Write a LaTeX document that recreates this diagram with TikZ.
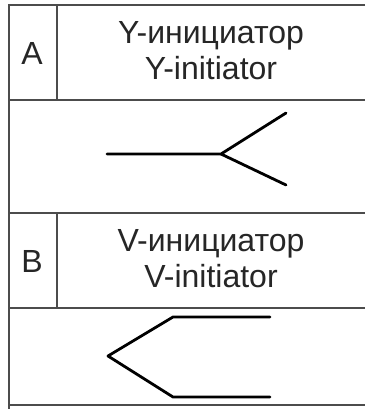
\documentclass[tikz,border=0pt]{standalone}
\usepackage{fontspec}
\setmainfont{Liberation Sans}
\begin{document}
\begin{tikzpicture}[x=1pt,y=-1pt,
  grid/.style={draw=black!70,line width=1.6pt},
  glyph/.style={draw=black,line width=2.8pt,line join=round,line cap=round},
  lbl/.style={font=\fontsize{32}{36}\selectfont,text=black!85,inner sep=0pt},
  head/.style={font=\fontsize{32}{36}\selectfont,text=black!85,align=center,inner sep=0pt}]
\useasboundingbox (0,0) rectangle (365,409);
\fill[white] (0,0) rectangle (365,409);
% table lines
\draw[grid] (365,5) -- (9,5) -- (9,409);
\draw[grid] (9,100) -- (365,100);
\draw[grid] (57,5) -- (57,100);
\draw[grid] (9,213) -- (365,213);
\draw[grid] (9,308) -- (365,308);
\draw[grid] (57,213) -- (57,308);
\draw[grid] (9,405) -- (365,405);
% labels
\node[lbl] (la) at (32,53) {A};
\node[lbl] (lb) at (32,261) {B};
\node[head] (ha) at (211,51) {Y-инициатор\\Y-initiator};
\node[head] (hb) at (211,259) {V-инициатор\\V-initiator};
% Y shape
\coordinate (y0) at (107,154);
\coordinate (yj) at (221,154);
\coordinate (yu) at (286,113);
\coordinate (yd) at (286,185);
\draw[glyph] (y0) -- (yj) -- (yu);
\draw[glyph] (yj) -- (yd);
% V shape
\coordinate (vu2) at (270,317);
\coordinate (vu1) at (173,317);
\coordinate (vv) at (108,356);
\coordinate (vd1) at (173,397);
\coordinate (vd2) at (270,397);
\draw[glyph] (vu2) -- (vu1) -- (vv) -- (vd1) -- (vd2);
\end{tikzpicture}
\end{document}
